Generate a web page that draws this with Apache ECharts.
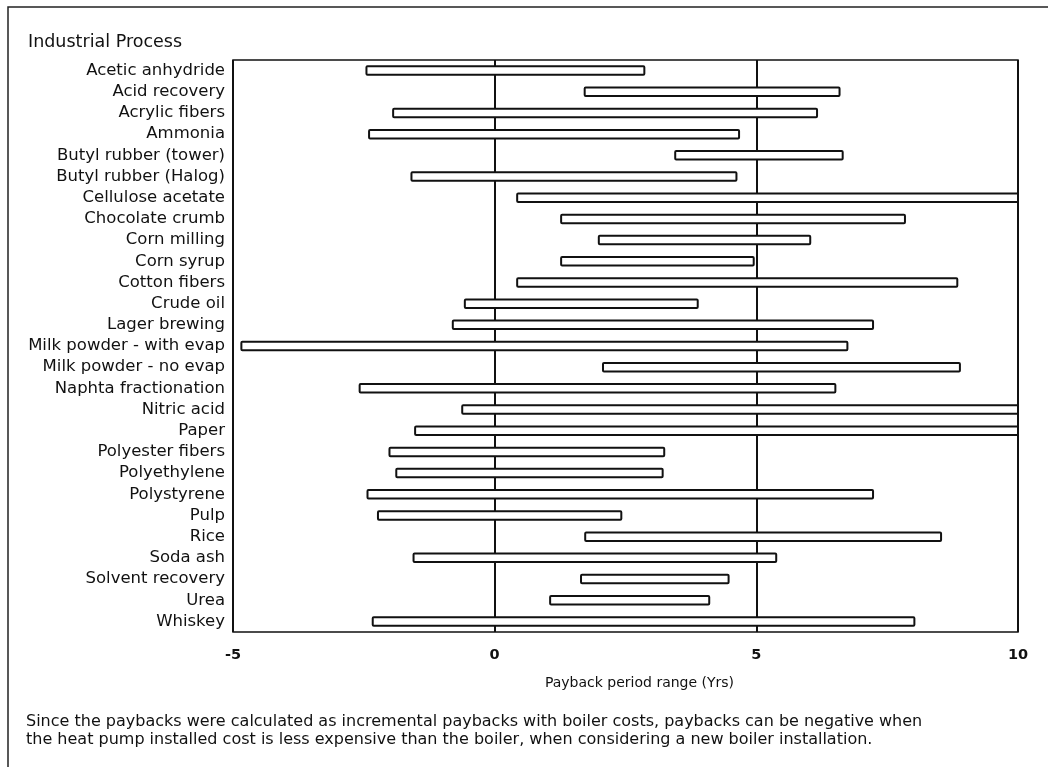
<!DOCTYPE html>
<html>
<head>
<meta charset="utf-8">
<script src="https://cdn.jsdelivr.net/npm/echarts@6/dist/echarts.min.js"></script>
<style>
  html, body { margin: 0; padding: 0; background: #ffffff; }
  #chart { width: 1048px; height: 767px; }
</style>
</head>
<body>
<div id="chart"></div>
<script>
// ---- data ----
const categories = [
  'Acetic anhydride', 'Acid recovery', 'Acrylic fibers', 'Ammonia',
  'Butyl rubber (tower)', 'Butyl rubber (Halog)', 'Cellulose acetate',
  'Chocolate crumb', 'Corn milling', 'Corn syrup', 'Cotton fibers',
  'Crude oil', 'Lager brewing', 'Milk powder - with evap',
  'Milk powder - no evap', 'Naphta fractionation', 'Nitric acid', 'Paper',
  'Polyester fibers', 'Polyethylene', 'Polystyrene', 'Pulp', 'Rice',
  'Soda ash', 'Solvent recovery', 'Urea', 'Whiskey'
];
const lowValues = [
  -2.45, 1.72, -1.94, -2.40, 3.45, -1.59, 0.43, 1.27, 1.99, 1.27, 0.43,
  -0.57, -0.80, -4.84, 2.07, -2.58, -0.62, -1.52, -2.01, -1.88, -2.43,
  -2.23, 1.73, -1.55, 1.65, 1.06, -2.33
];
const highValues = [
  2.86, 6.59, 6.16, 4.67, 6.65, 4.62, 10, 7.84, 6.03, 4.95, 8.84,
  3.88, 7.23, 6.74, 8.89, 6.51, 10, 10, 3.24, 3.21, 7.23,
  2.42, 8.53, 5.38, 4.47, 4.10, 8.02
];
const xTickLabels = { '-5': '-5', '0': '0', '5': '5', '10': '10' };
const titleText = 'Industrial Process';
const axisTitle = 'Payback period range (Yrs)';
const noteLines = [
  'Since the paybacks were calculated as incremental paybacks with boiler costs, paybacks can be negative when',
  'the heat pump installed cost is less expensive than the boiler, when considering a new boiler installation.'
];

const seriesData = categories.map((c, i) => [i, lowValues[i], highValues[i]]);

const FONT = '"DejaVu Sans", "Liberation Sans", sans-serif';
const chart = echarts.init(document.getElementById('chart'), null, { renderer: 'canvas' });

chart.setOption({
  backgroundColor: '#ffffff',
  animation: false,
  title: [
    {
      text: titleText, left: 23, top: 28,
      textStyle: { fontFamily: FONT, fontSize: 17.5, fontWeight: 'normal', color: '#111' }
    },
    {
      text: noteLines.join('\n'), left: 21, top: 708,
      textStyle: { fontFamily: FONT, fontSize: 16, fontWeight: 'normal', color: '#111', lineHeight: 18 }
    }
  ],
  graphic: [
    {
      type: 'rect', silent: true, z: -1,
      shape: { x: 8, y: 7, width: 1100, height: 800 },
      style: { fill: 'none', stroke: '#222', lineWidth: 1.5 }
    }
  ],
  grid: {
    left: 233, right: 30, top: 60, bottom: 135,
    show: true, borderColor: '#111', borderWidth: 1.5, backgroundColor: 'transparent'
  },
  xAxis: {
    type: 'value', min: -5, max: 10, interval: 5,
    axisLine: { show: false },
    axisTick: { show: false },
    splitLine: { show: true, lineStyle: { color: '#111', width: 2 } },
    axisLabel: {
      margin: 16, fontFamily: FONT, fontSize: 14.5, fontWeight: 'bold', color: '#111',
      formatter: v => xTickLabels[String(v)] ?? String(v)
    },
    name: axisTitle, nameLocation: 'middle', nameGap: 44,
    nameTextStyle: { fontFamily: FONT, fontSize: 14, color: '#111', padding: [0, 0, 0, 28] }
  },
  yAxis: {
    type: 'category', data: categories, inverse: true,
    axisLine: { show: false },
    axisTick: { show: false },
    splitLine: { show: false },
    axisLabel: { interval: 0, margin: 8, fontFamily: FONT, fontSize: 16.5, color: '#111' }
  },
  series: [{
    type: 'custom',
    data: seriesData,
    encode: { x: [1, 2], y: 0 },
    clip: true,
    renderItem: function (params, api) {
      const cat = api.value(0);
      const p1 = api.coord([api.value(1), cat]);
      const p2 = api.coord([api.value(2), cat]);
      const h = 8.5;
      return {
        type: 'rect',
        shape: { x: p1[0], y: p1[1] - h / 2, width: p2[0] - p1[0], height: h, r: 1 },
        style: { fill: '#ffffff', stroke: '#111', lineWidth: 2 }
      };
    }
  }]
});
</script>
</body>
</html>
